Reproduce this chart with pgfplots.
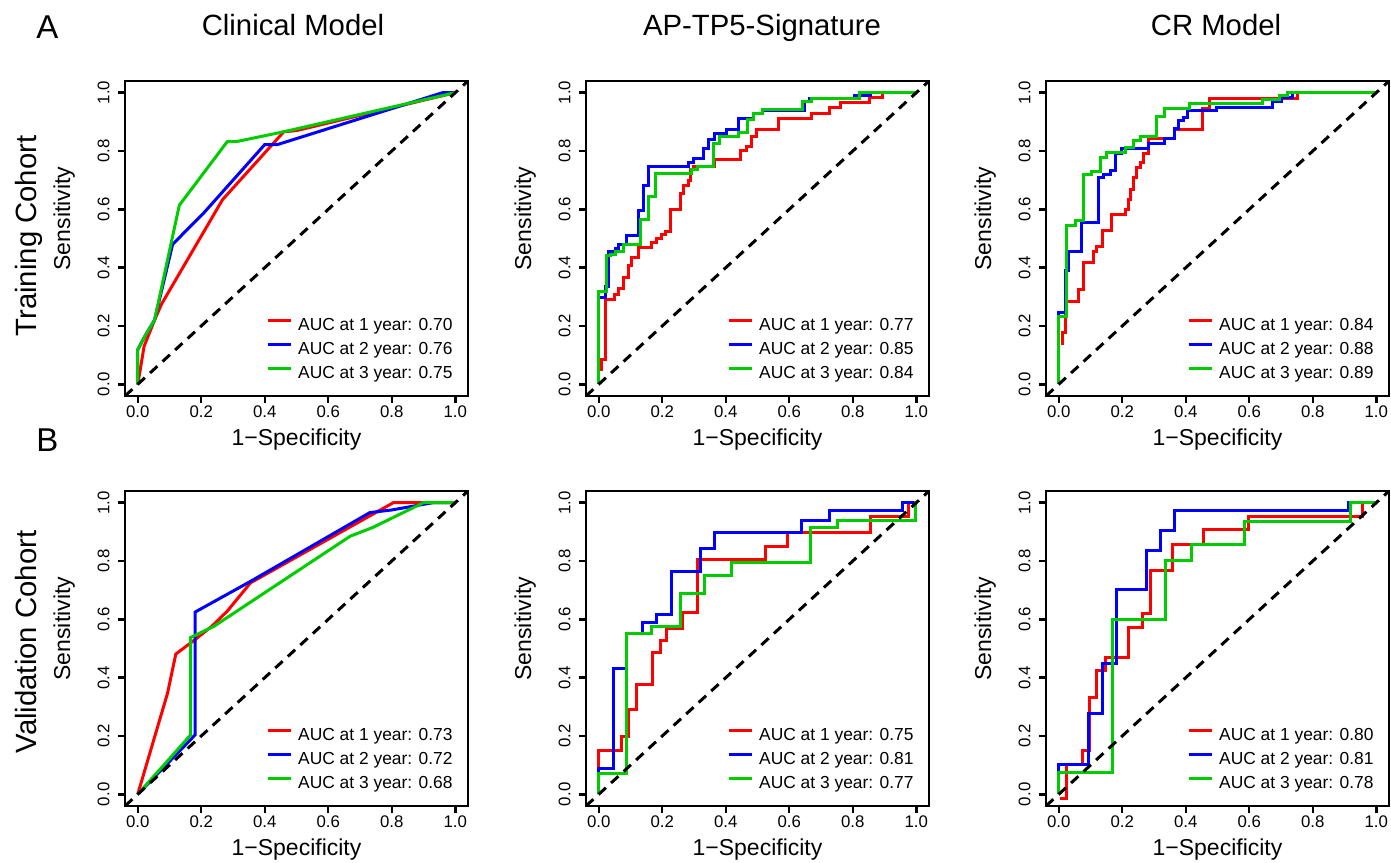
\documentclass[border=0pt]{standalone}
\usepackage{pgfplots}
\pgfplotsset{compat=1.18}
\usepackage{fontspec}
\setmainfont{Liberation Sans}
\definecolor{rred}{RGB}{255,0,0}
\definecolor{rblue}{RGB}{0,0,255}
\definecolor{rgreen}{RGB}{0,205,0}
\pgfplotsset{
  rocax/.style={
    scale only axis, width=171.5pt, height=157.5pt,
    xmin=-0.04, xmax=1.04, ymin=-0.04, ymax=1.04,
    xtick={0,0.2,0.4,0.6,0.8,1}, ytick={0,0.2,0.4,0.6,0.8,1},
    xtick pos=left, ytick pos=left, tick align=outside,
    major tick length=3.5pt,
    every tick/.style={black, line width=1.2pt},
    axis line style={line width=1.35pt},
    tick label style={font=\fontsize{8.4}{10}\selectfont, inner sep=0pt,
      /pgf/number format/fixed, /pgf/number format/fixed zerofill,
      /pgf/number format/precision=1, /pgf/number format/assume math mode=true},
    xticklabel style={anchor=north},
    yticklabel style={rotate=90, anchor=south},
    xticklabel shift=1pt, yticklabel shift=4pt,
    xlabel={1−Specificity}, ylabel={Sensitivity},
    label style={font=\fontsize{11.5}{13}\selectfont},
    xlabel style={at={(rel axis cs:0.5,-0.157)}, anchor=base},
    ylabel style={at={(rel axis cs:-0.1603,0.563)}, anchor=base},
    legend style={at={(0.962,0.035)}, anchor=south east, draw=none, fill=none,
      inner sep=0pt, font=\fontsize{8.7}{10}\selectfont, row sep=2pt,
      nodes={inner sep=1pt, text height=6.3pt, text depth=1.8pt},
      /tikz/every odd column/.append style={column sep=2pt}},
    legend cell align=left,
    legend image code/.code={\draw[##1,line width=1.5pt] (0pt,3pt) -- (11.5pt,3pt);},
  },
  rc/.style={line width=1.5pt, rred},
  bc/.style={line width=1.5pt, rblue},
  gc/.style={line width=1.5pt, rgreen},
  diag/.style={black, line width=1.5pt, dash pattern=on 5pt off 3.5pt, forget plot},
}
\begin{document}
\begin{tikzpicture}
\useasboundingbox (0,0) rectangle (695.5pt,431pt);
% panel letters
\node[font=\fontsize{16.5}{18}\selectfont, anchor=base] at (23.75pt,411.5pt) {A};
\node[font=\fontsize{16.5}{18}\selectfont, anchor=base] at (23.75pt,205pt) {B};
% column titles
\node[font=\fontsize{14.65}{16}\selectfont, anchor=base] at (146.5pt,413pt) {Clinical Model};
\node[font=\fontsize{14.65}{16}\selectfont, anchor=base] at (381pt,413pt) {AP-TP5-Signature};
\node[font=\fontsize{14.65}{16}\selectfont, anchor=base] at (608pt,413pt) {CR Model};
% row titles
\node[font=\fontsize{14.65}{16}\selectfont, anchor=base, rotate=90] at (18pt,313pt) {Training Cohort};
\node[font=\fontsize{14.65}{16}\selectfont, anchor=base, rotate=90] at (18pt,110pt) {Validation Cohort};

% ---------- Training, Clinical Model
\begin{axis}[rocax, at={(62.5pt,233pt)}, anchor=south west]
\addplot[rc] coordinates {(0,0) (0.008,0.05) (0.02,0.13) (0.053,0.22) (0.075,0.275) (0.267,0.633) (0.46,0.866) (0.5,0.87) (1,1)};
\addlegendentry{AUC at 1 year: 0.70}
\addplot[bc] coordinates {(0,0) (0,0.118) (0.02,0.16) (0.053,0.22) (0.11,0.48) (0.21,0.59) (0.40,0.822) (0.44,0.822) (0.96,1.0) (1,1)};
\addlegendentry{AUC at 2 year: 0.76}
\addplot[gc] coordinates {(0,0) (0,0.118) (0.02,0.16) (0.053,0.22) (0.131,0.614) (0.282,0.832) (0.31,0.832) (0.46,0.866) (1,1)};
\addlegendentry{AUC at 3 year: 0.75}
\addplot[diag] coordinates {(-0.04,-0.04) (1.04,1.04)};
\end{axis}

% ---------- Training, AP-TP5-Signature
\begin{axis}[rocax, at={(293pt,233pt)}, anchor=south west]
\addplot[rc, const plot mark right] coordinates {(0.010,0.044) (0.021,0.084) (0.049,0.29) (0.063,0.307) (0.078,0.33) (0.094,0.367) (0.104,0.407) (0.125,0.436) (0.167,0.47) (0.183,0.487) (0.199,0.5) (0.209,0.513) (0.227,0.525) (0.256,0.6) (0.266,0.655) (0.282,0.68) (0.29,0.7) (0.298,0.735) (0.366,0.746) (0.445,0.77) (0.466,0.8) (0.482,0.816) (0.497,0.85) (0.565,0.874) (0.67,0.91) (0.728,0.93) (0.76,0.948) (0.853,0.966) (0.895,0.983) (1,1)};
\addlegendentry{AUC at 1 year: 0.77}
\addplot[bc, const plot mark right] coordinates {(0,0) (0.021,0.296) (0.031,0.336) (0.052,0.457) (0.063,0.466) (0.089,0.48) (0.125,0.509) (0.141,0.595) (0.157,0.68) (0.282,0.746) (0.298,0.761) (0.329,0.775) (0.345,0.81) (0.366,0.838) (0.402,0.859) (0.439,0.873) (0.486,0.91) (0.517,0.928) (0.648,0.94) (0.664,0.968) (0.805,0.979) (0.857,0.99) (1,1)};
\addlegendentry{AUC at 2 year: 0.85}
\addplot[gc, const plot mark right] coordinates {(0,0) (0.026,0.319) (0.037,0.44) (0.052,0.446) (0.078,0.457) (0.131,0.48) (0.157,0.566) (0.178,0.643) (0.292,0.723) (0.31,0.735) (0.361,0.746) (0.38,0.827) (0.439,0.85) (0.47,0.864) (0.486,0.907) (0.517,0.928) (0.643,0.943) (0.669,0.968) (0.82,0.979) (1,1)};
\addlegendentry{AUC at 3 year: 0.84}
\addplot[diag] coordinates {(-0.04,-0.04) (1.04,1.04)};
\end{axis}

% ---------- Training, CR Model
\begin{axis}[rocax, at={(523pt,233pt)}, anchor=south west]
\addplot[rc, const plot mark right] coordinates {(0.0104,0.135) (0.021,0.176) (0.063,0.285) (0.078,0.325) (0.11,0.417) (0.12,0.457) (0.139,0.474) (0.167,0.526) (0.209,0.583) (0.219,0.6) (0.227,0.635) (0.235,0.669) (0.246,0.71) (0.256,0.744) (0.266,0.761) (0.282,0.79) (0.366,0.842) (0.452,0.874) (0.475,0.945) (0.752,0.979) (1,1)};
\addlegendentry{AUC at 1 year: 0.84}
\addplot[bc, const plot mark right] coordinates {(0,0) (0.021,0.245) (0.031,0.39) (0.073,0.457) (0.125,0.555) (0.141,0.71) (0.162,0.72) (0.178,0.733) (0.199,0.79) (0.282,0.807) (0.334,0.824) (0.366,0.842) (0.376,0.876) (0.392,0.905) (0.405,0.916) (0.496,0.939) (0.674,0.948) (0.7,0.968) (0.737,0.985) (1,1)};
\addlegendentry{AUC at 2 year: 0.88}
\addplot[gc, const plot mark right] coordinates {(0,0) (0.026,0.233) (0.052,0.543) (0.078,0.56) (0.104,0.718) (0.131,0.729) (0.152,0.778) (0.209,0.796) (0.235,0.813) (0.256,0.836) (0.308,0.85) (0.334,0.918) (0.413,0.945) (0.643,0.962) (0.695,0.975) (0.721,0.99) (1,1)};
\addlegendentry{AUC at 3 year: 0.89}
\addplot[diag] coordinates {(-0.04,-0.04) (1.04,1.04)};
\end{axis}

% ---------- Validation, Clinical Model
\begin{axis}[rocax, at={(62.5pt,28pt)}, anchor=south west]
\addplot[rc] coordinates {(0,0) (0.094,0.347) (0.12,0.481) (0.18,0.53) (0.235,0.578) (0.282,0.628) (0.355,0.725) (0.805,1.0) (1,1)};
\addlegendentry{AUC at 1 year: 0.73}
\addplot[bc] coordinates {(0,0) (0.181,0.204) (0.181,0.625) (0.355,0.73) (0.731,0.966) (0.8,0.975) (0.93,1.0) (1,1)};
\addlegendentry{AUC at 2 year: 0.72}
\addplot[gc] coordinates {(0,0) (0.167,0.204) (0.167,0.538) (0.24,0.576) (0.669,0.885) (0.74,0.915) (0.9,1.0) (1,1)};
\addlegendentry{AUC at 3 year: 0.68}
\addplot[diag] coordinates {(-0.04,-0.04) (1.04,1.04)};
\end{axis}

% ---------- Validation, AP-TP5-Signature
\begin{axis}[rocax, at={(293pt,28pt)}, anchor=south west]
\addplot[rc, const plot mark right] coordinates {(0,0) (0.073,0.152) (0.094,0.198) (0.12,0.29) (0.17,0.378) (0.195,0.485) (0.214,0.527) (0.264,0.57) (0.311,0.622) (0.525,0.805) (0.594,0.851) (0.857,0.897) (0.975,0.954) (1,1)};
\addlegendentry{AUC at 1 year: 0.75}
\addplot[bc, const plot mark right] coordinates {(0,0) (0.047,0.089) (0.089,0.43) (0.139,0.553) (0.181,0.588) (0.228,0.616) (0.319,0.763) (0.366,0.842) (0.637,0.897) (0.726,0.939) (0.956,0.974) (1,1)};
\addlegendentry{AUC at 2 year: 0.81}
\addplot[gc, const plot mark right] coordinates {(0,0) (0.086,0.072) (0.167,0.553) (0.256,0.576) (0.334,0.69) (0.418,0.751) (0.667,0.796) (0.752,0.914) (0.998,0.939) (1,1)};
\addlegendentry{AUC at 3 year: 0.77}
\addplot[diag] coordinates {(-0.04,-0.04) (1.04,1.04)};
\end{axis}

% ---------- Validation, CR Model
\begin{axis}[rocax, at={(523pt,28pt)}, anchor=south west]
\addplot[rc, const plot mark right] coordinates {(0.003,-0.015) (0.026,-0.015) (0.076,0.101) (0.096,0.152) (0.12,0.332) (0.146,0.424) (0.219,0.47) (0.264,0.573) (0.289,0.619) (0.358,0.767) (0.455,0.857) (0.596,0.908) (0.955,0.954) (1,1)};
\addlegendentry{AUC at 1 year: 0.80}
\addplot[bc, const plot mark right] coordinates {(0,0) (0.094,0.103) (0.139,0.278) (0.181,0.45) (0.275,0.704) (0.321,0.836) (0.366,0.905) (0.912,0.974) (1,1)};
\addlegendentry{AUC at 2 year: 0.81}
\addplot[gc, const plot mark right] coordinates {(0,0) (0.17,0.075) (0.336,0.6) (0.418,0.802) (0.585,0.857) (0.918,0.937) (1,1)};
\addlegendentry{AUC at 3 year: 0.78}
\addplot[diag] coordinates {(-0.04,-0.04) (1.04,1.04)};
\end{axis}
\end{tikzpicture}
\end{document}
